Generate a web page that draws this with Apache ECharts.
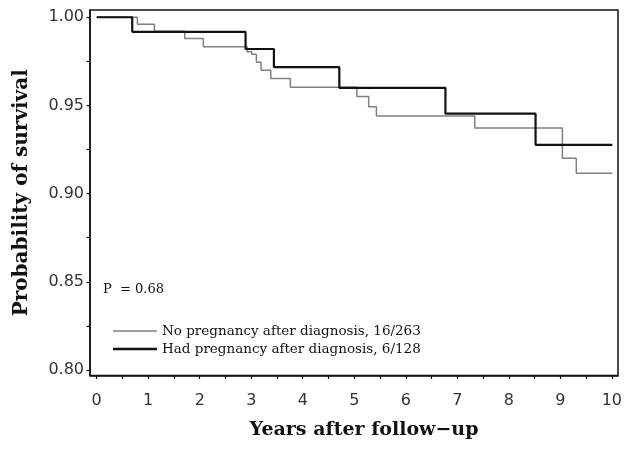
<!DOCTYPE html>
<html>
<head>
<meta charset="utf-8">
<script src="https://cdn.jsdelivr.net/npm/echarts@6/dist/echarts.min.js"></script>
<style>html,body{margin:0;padding:0;background:#fff}#c{width:629px;height:451px}</style>
</head>
<body>
<div id="c"></div>
<script>
// Kaplan-Meier steps
const noPregTimes = [0, 0.79, 1.12, 1.71, 2.07, 2.92, 3.01, 3.10, 3.19, 3.38, 3.76, 5.05, 5.28, 5.43, 7.34, 9.04, 9.31, 10.01];
const noPregSurv  = [1.000, 0.996, 0.992, 0.9879, 0.9833, 0.9805, 0.979, 0.9745, 0.970, 0.9652, 0.9603, 0.955, 0.9493, 0.944, 0.9372, 0.920, 0.9116, 0.9116];
const hadPregTimes = [0, 0.69, 2.89, 3.44, 4.71, 6.77, 8.52, 10.01];
const hadPregSurv  = [1.000, 0.9917, 0.982, 0.9717, 0.960, 0.9453, 0.9276, 0.9276];

const xTicks = [0,1,2,3,4,5,6,7,8,9,10];
const xMinor = [0.5,1.5,2.5,3.5,4.5,5.5,6.5,7.5,8.5,9.5];
const yTicks = [0.80, 0.85, 0.90, 0.95, 1.00];
const yMinor = [0.825, 0.875, 0.925, 0.975];

const seriesNames = ['No pregnancy after diagnosis, 16/263', 'Had pregnancy after diagnosis, 6/128'];
const pText = 'P  = 0.68';

const pair = (t, s) => t.map((v, i) => [v, s[i]]);

const tickFont = {fontFamily: 'DejaVu Sans', fontSize: 16, color: '#333'};
const legendFont = {fontFamily: 'DejaVu Serif', fontSize: 13.5, color: '#111'};

const chart = echarts.init(document.getElementById('c'), null, {renderer: 'canvas'});
chart.setOption({
  animation: false,
  backgroundColor: '#fff',
  grid: {left: 90, right: 11, top: 10, bottom: 75.5, show: true, borderColor: '#111', borderWidth: 1.5, containLabel: false},
  title: {text: pText, left: 103, top: 283, padding: 0, textStyle: {fontFamily: 'DejaVu Serif', fontSize: 13, fontWeight: 'normal', color: '#111'}},
  legend: [
    {data: [{name: seriesNames[0], icon: 'rect'}], left: 113, top: 324, itemWidth: 44, itemHeight: 1.5, padding: 0, textStyle: legendFont},
    {data: [{name: seriesNames[1], icon: 'rect'}], left: 113, top: 342, itemWidth: 44, itemHeight: 2.5, padding: 0, textStyle: legendFont}
  ],
  xAxis: {
    type: 'value', min: -0.13, max: 10.12, splitLine: {show: false},
    name: 'Years after follow−up', nameLocation: 'middle', nameGap: 45,
    nameTextStyle: {fontFamily: 'DejaVu Serif', fontWeight: 'bold', fontSize: 19, color: '#111', padding: [0, 0, 0, 20]},
    axisLine: {show: true, onZero: false, lineStyle: {color: '#111', width: 1.5}},
    axisTick: {show: true, inside: false, customValues: xTicks.concat(xMinor), length: 3.5, lineStyle: {color: '#111', width: 1.2}},
    axisLabel: Object.assign({customValues: xTicks, margin: 17}, tickFont)
  },
  yAxis: {
    type: 'value', min: 0.7969, max: 1.0041, splitLine: {show: false},
    name: 'Probability of survival', nameLocation: 'middle', nameGap: 58, nameRotate: 90,
    nameTextStyle: {fontFamily: 'DejaVu Serif', fontWeight: 'bold', fontSize: 20, color: '#111'},
    axisLine: {show: true, onZero: false, lineStyle: {color: '#111', width: 1.5}},
    axisTick: {show: true, inside: false, customValues: yTicks.concat(yMinor), length: 3.5, lineStyle: {color: '#111', width: 1.2}},
    axisLabel: Object.assign({customValues: yTicks, margin: 6, formatter: v => v.toFixed(2)}, tickFont)
  },
  series: [
    {name: seriesNames[0], type: 'line', step: 'end', data: pair(noPregTimes, noPregSurv),
     showSymbol: false, color: '#808080', lineStyle: {color: '#808080', width: 1.5}, z: 2},
    {name: seriesNames[1], type: 'line', step: 'end', data: pair(hadPregTimes, hadPregSurv),
     showSymbol: false, color: '#111', lineStyle: {color: '#111', width: 2.2}, z: 3}
  ]
});
</script>
</body>
</html>
